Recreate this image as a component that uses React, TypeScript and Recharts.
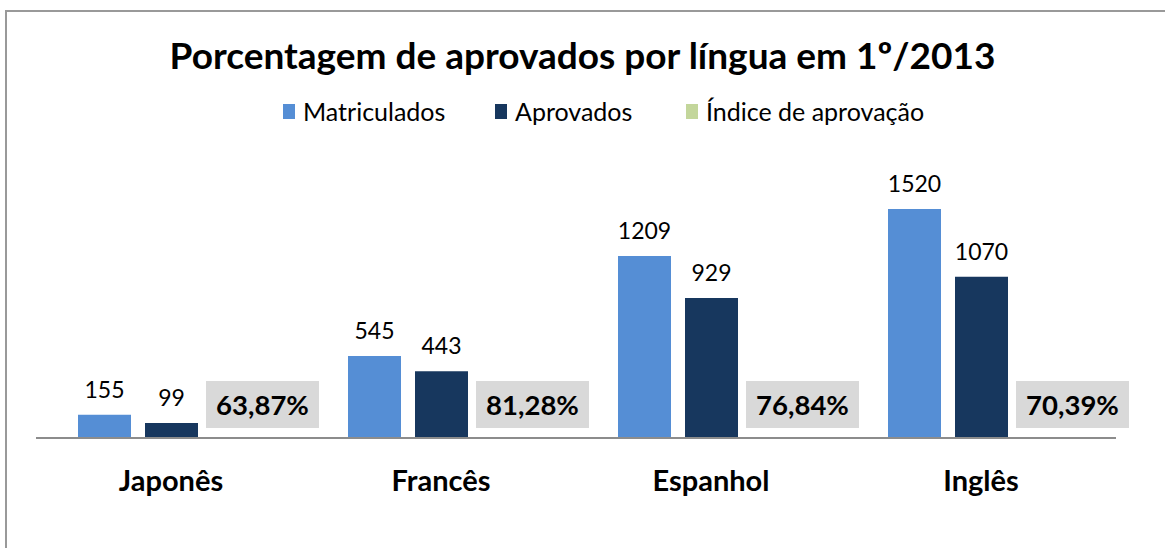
import React from 'react';
import { BarChart, Bar, XAxis, YAxis, LabelList, Legend } from 'recharts';

const categories = ['Japonês', 'Francês', 'Espanhol', 'Inglês'];
const matriculados = [155, 545, 1209, 1520];
const aprovados = [99, 443, 929, 1070];
const indice = [0.6387, 0.8128, 0.7684, 0.7039];
const indiceLabels = ['63,87%', '81,28%', '76,84%', '70,39%'];

const data = categories.map((c, i) => ({
  name: c,
  Matriculados: matriculados[i],
  Aprovados: aprovados[i],
  'Índice de aprovação': indice[i],
  label: indiceLabels[i],
}));

const FONT = 'Lato, "Open Sans", sans-serif';
const colors = { m: '#558ED5', a: '#17375E', i: '#C3D69B' };

const IndexLabel = (props: any) => {
  const { x, y, height, index } = props;
  const base = y + height;
  const bx = x - 6;
  const by = base - 57;
  return (
    <g>
      <rect x={bx} y={by} width={113} height={47} fill="#D9D9D9" />
      <text x={bx + 56.5} y={by + 33.5} textAnchor="middle" fontFamily={FONT} fontWeight="bold" fontSize={27.5} fill="#000">
        {indiceLabels[index]}
      </text>
    </g>
  );
};

const CatTick = (props: any) => {
  const { x, y, payload } = props;
  return (
    <text x={x} y={y + 45} textAnchor="middle" fontFamily={FONT} fontWeight="bold" fontSize={29} fill="#000">
      {payload.value}
    </text>
  );
};

const LegendContent = (props: any) => {
  const items = [
    { label: 'Matriculados', color: colors.m, left: 283 },
    { label: 'Aprovados', color: colors.a, left: 495 },
    { label: 'Índice de aprovação', color: colors.i, left: 686 },
  ];
  return (
    <div style={{ position: 'relative', height: 30, fontFamily: FONT, fontSize: 25, color: '#000' }}>
      {items.map((it) => (
        <div key={it.label} style={{ position: 'absolute', left: it.left, top: 0, display: 'flex', alignItems: 'center', whiteSpace: 'nowrap', height: 30 }}>
          <span style={{ display: 'inline-block', width: 12, height: 15, background: it.color, marginRight: 8 }} />
          <span>{it.label}</span>
        </div>
      ))}
    </div>
  );
};

export default function App() {
  return (
    <div style={{ position: 'absolute', left: 0, top: 0, width: 1165, height: 548, background: '#fff', overflow: 'hidden' }}>
      <div style={{ position: 'absolute', left: 5, top: 10, width: 1160, height: 538, borderLeft: '2px solid #999', borderTop: '2px solid #999', boxSizing: 'border-box' }} />
      <div style={{ position: 'absolute', left: 0, top: 32, width: 1165, textAlign: 'center', fontFamily: FONT, fontWeight: 'bold', fontSize: 37, color: '#000', lineHeight: '46px' }}>
        Porcentagem de aprovados por língua em 1º/2013
      </div>
      <div style={{ position: 'absolute', left: 0, top: 0 }}>
        <BarChart width={1165} height={548} data={data} margin={{ top: 197, right: 49, bottom: 50, left: 36 }} barSize={53} barGap={14}>
          <XAxis dataKey="name" height={60} axisLine={{ stroke: '#8C8C8C', strokeWidth: 2 }} tickLine={false} tick={<CatTick />} interval={0} />
          <YAxis hide domain={[0, 1600]} />
          <Legend layout="horizontal" verticalAlign="middle" align="center" wrapperStyle={{ top: 96, left: 0, width: 1165 }} content={<LegendContent />} />
          <Bar dataKey="Matriculados" fill={colors.m} isAnimationActive={false}>
            <LabelList dataKey="Matriculados" position="top" offset={17} fill="#000" fontFamily={FONT} fontSize={23} />
          </Bar>
          <Bar dataKey="Aprovados" fill={colors.a} isAnimationActive={false}>
            <LabelList dataKey="Aprovados" position="top" offset={17} fill="#000" fontFamily={FONT} fontSize={23} />
          </Bar>
          <Bar dataKey="Índice de aprovação" fill={colors.i} isAnimationActive={false}>
            <LabelList dataKey="label" content={<IndexLabel />} />
          </Bar>
        </BarChart>
      </div>
    </div>
  );
}
